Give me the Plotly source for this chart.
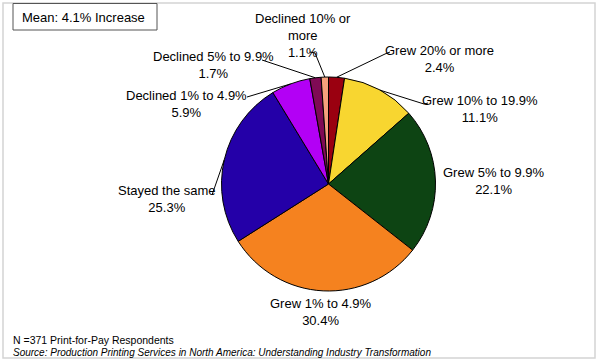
import math
import plotly.graph_objects as go

# ---- data ----
categories = ["Grew 20% or more", "Grew 10% to 19.9%", "Grew 5% to 9.9%", "Grew 1% to 4.9%",
              "Stayed the same", "Declined 1% to 4.9%", "Declined 5% to 9.9%", "Declined 10% or more"]
values = [2.4, 11.1, 22.1, 30.4, 25.3, 5.9, 1.7, 1.1]
colors = ["#9a0010", "#f8d630", "#0d4413", "#f5821f", "#2400a8", "#b300f5", "#7f0a55", "#f6a27c"]
label_text = ["Grew 20% or more", "Grew 10% to 19.9%", "Grew 5% to 9.9%", "Grew 1% to 4.9%",
              "Stayed the same", "Declined 1% to 4.9%", "Declined 5% to 9.9%", "Declined 10% or<br>more"]
mean_text = "Mean: 4.1% Increase"
note_text = "N =371 Print-for-Pay Respondents"
source_text = "<i>Source: Production Printing Services in North America: Understanding Industry Transformation</i>"

W, H = 600, 364
CX, CY, R = 328.5, 184.0, 107.0
FONT = "Liberation Sans, Arial, sans-serif"

def px(x):
    return x / W

def py(y):
    return 1 - y / H

# label layout: (center x, center y in px), and leader start points (px) or None
label_pos = [(439, 59), (480, 109), (494, 181), (321, 312), (167, 199), (186, 104), (213, 65), (303, 36)]
leader_start = [[(390, 52), (385, 54)], [(428, 103), (424, 104)], None, None,
                [(212, 195)], [(247, 97)], [(262, 60)], [(310, 52), (315, 53)]]

fig = go.Figure()
fig.add_trace(go.Pie(
    labels=categories, values=values, sort=False, direction="clockwise", rotation=0,
    marker=dict(colors=colors, line=dict(color="black", width=1)),
    textinfo="none", hoverinfo="label+percent", showlegend=False,
    domain=dict(x=[px(CX - R), px(CX + R)], y=[py(CY + R), py(CY - R)]),
))

shapes = []
annotations = []
total = sum(values)
cum = 0.0
for i, v in enumerate(values):
    mid = (cum + v / 2) / total * 2 * math.pi
    cum += v
    ex = CX + R * math.sin(mid)
    ey = CY - R * math.cos(mid)
    lx, ly = label_pos[i]
    annotations.append(dict(
        x=px(lx), y=py(ly), xref="paper", yref="paper", xanchor="center", yanchor="middle",
        text=f"{label_text[i]}<br>{v:.1f}%", showarrow=False, align="center",
        font=dict(family=FONT, size=13, color="black")))
    if leader_start[i]:
        pts = leader_start[i] + [(ex, ey)]
        path = "M " + " L ".join(f"{px(x)},{py(y)}" for x, y in pts)
        shapes.append(dict(type="path", path=path, xref="paper", yref="paper",
                           line=dict(color="black", width=1)))

# outer frame and mean box
shapes.append(dict(type="rect", xref="paper", yref="paper", x0=px(3), x1=px(595), y0=py(358), y1=py(3),
                   line=dict(color="#d4d4d4", width=1.5)))
shapes.append(dict(type="rect", xref="paper", yref="paper", x0=px(13), x1=px(157), y0=py(30), y1=py(3.5),
                   line=dict(color="#555555", width=1), fillcolor="white"))
annotations.append(dict(x=px(20), y=py(17), xref="paper", yref="paper", xanchor="left", yanchor="middle",
                        text=mean_text, showarrow=False, font=dict(family=FONT, size=13, color="black")))
annotations.append(dict(x=px(11), y=py(340), xref="paper", yref="paper", xanchor="left", yanchor="middle",
                        text=note_text, showarrow=False, font=dict(family=FONT, size=10.5, color="black")))
annotations.append(dict(x=px(11), y=py(352), xref="paper", yref="paper", xanchor="left", yanchor="middle",
                        text=source_text, showarrow=False, font=dict(family=FONT, size=10, color="black")))

fig.update_layout(
    width=W, height=H, margin=dict(l=0, r=0, t=0, b=0),
    paper_bgcolor="white", plot_bgcolor="white",
    shapes=shapes, annotations=annotations,
)
fig.write_html("out.html", config={"displayModeBar": False},
               post_script="document.body.style.margin='0';document.body.style.overflow='hidden';")
